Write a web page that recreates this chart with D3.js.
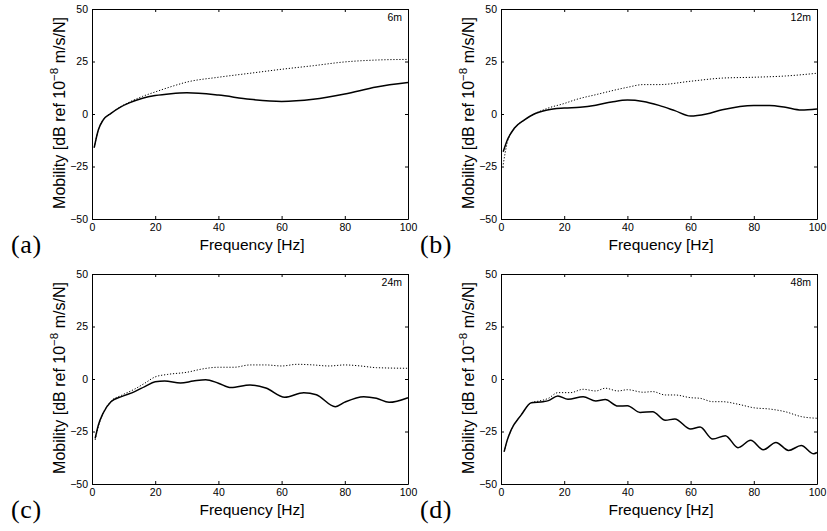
<!DOCTYPE html>
<html>
<head>
<meta charset="utf-8">
<script src="https://cdn.jsdelivr.net/npm/d3@7"></script>
<style>
  body { margin: 0; background: #fff; }
  text { font-family: "Liberation Sans", Arial, sans-serif; fill: #000; }
  .tag { font-family: "Liberation Serif", "DejaVu Serif", serif; }
</style>
</head>
<body>
<div class="chart"></div>
<script>
var svgWidth = 827;
var svgHeight = 531;

// panel titles and letters
var panelNames = ["6m", "12m", "24m", "48m"];
var panelTags = ["(a)", "(b)", "(c)", "(d)"];

var xTicks = [0, 20, 40, 60, 80, 100];
var yTicks = [-50, -25, 0, 25, 50];

// 6m
var freqA = [0.7, 2, 3.5, 6, 9, 12, 16, 20, 25, 30, 40, 50, 60, 70, 80, 90, 100];
var solidA = [-16, -7.6, -2.9, 0.3, 3.3, 5.4, 7.5, 8.8, 9.7, 10.1, 9, 7, 6, 7, 9.5, 12.9, 15];
var dotFreqA = [0.7, 2, 3.5, 6, 9, 12, 16, 20, 25, 30, 40, 50, 60, 70, 80, 90, 100];
var dottedA = [-16, -7.6, -2.9, 0.3, 3.4, 5.8, 8.4, 10.5, 13, 15.2, 17.5, 19.4, 21.3, 23, 24.8, 25.7, 26];

// 12m
var freqB = [0.7, 2, 4.2, 7.3, 10.5, 14.7, 20, 25, 30, 35, 40, 45, 50, 55, 60, 65, 70, 80, 85, 90, 95, 100];
var solidB = [-18, -12.4, -6.8, -2.9, 0, 1.9, 2.8, 3.2, 4.2, 5.7, 6.7, 6, 4.1, 1.6, -1, 0, 2, 4.1, 4.1, 3.2, 1.9, 2.4];
var dotFreqB = [0.7, 2, 4.2, 7.3, 10.5, 14.7, 20, 24, 30, 40, 45, 50, 60, 70, 80, 90, 100];
var dottedB = [-24, -13.5, -7, -2.9, 0, 2.7, 5, 7, 9.2, 12.7, 14, 14, 15.6, 17.1, 17.5, 18.1, 19.4];

// 24m
var freqC = [1, 2, 3.5, 6, 9.3, 13.5, 16.7, 20, 23, 28, 32, 36, 40, 44, 50, 55, 61, 67, 71, 77, 80, 86, 90, 94, 100];
var solidC = [-28.3, -22, -16.3, -10.8, -8.4, -6, -3.6, -1.3, -1, -1.9, -1, -0.3, -2, -4.1, -2.9, -4.3, -8.7, -6.5, -7.5, -13.2, -11, -8.4, -9.2, -11.1, -8.9];
var dotFreqC = [1, 2, 3.5, 6, 9.3, 13.5, 16.7, 20, 24, 30, 35, 40, 45, 50, 55, 60, 65, 70, 75, 80, 85, 90, 100];
var dottedC = [-29, -22.5, -16.3, -10.6, -7.8, -4.8, -2, 1, 2.2, 3.2, 4.8, 5.6, 5.6, 6.7, 6.7, 6.2, 7, 6.7, 6.2, 6.7, 6.2, 5.4, 5.1];

// 48m
var freqD = [1, 2, 3.2, 6.4, 9.6, 13.3, 15, 18, 21.2, 26, 30, 33, 37, 40, 44, 48, 52, 55, 60, 63, 67, 71, 75, 79, 83, 87, 91, 95, 99, 100];
var solidD = [-34.6, -29, -24.3, -17.1, -11.3, -10.8, -10.3, -8.1, -9.7, -8.4, -10.5, -9.8, -12.9, -12.7, -15.9, -15.6, -19.7, -19, -23.8, -22.9, -28.6, -27, -32.7, -29.2, -33.7, -30.2, -34, -31.7, -35.6, -35];
var dotFreqD = [1, 2, 3.2, 6.4, 9.6, 12, 15, 18, 22, 26, 30, 33, 37, 40, 45, 48, 52, 55, 60, 63, 67, 70, 75, 80, 85, 90, 95, 100];
var dottedD = [-34.6, -29, -24.3, -17.1, -11.2, -10.5, -9.2, -6.5, -6.5, -4.9, -5.7, -4.4, -5.7, -5.1, -6.3, -6, -7.6, -7.6, -8.9, -9.2, -10.8, -10.8, -12, -13.7, -14.3, -15.6, -17.9, -18.7];

var panels = [
  { x: 92, y: 9, f: freqA, s: solidA, df: dotFreqA, d: dottedA },
  { x: 501, y: 9, f: freqB, s: solidB, df: dotFreqB, d: dottedB },
  { x: 92, y: 274, f: freqC, s: solidC, df: dotFreqC, d: dottedC },
  { x: 501, y: 274, f: freqD, s: solidD, df: dotFreqD, d: dottedD }
];

var width = 316;
var height = 210;

var svg = d3.select(".chart")
  .append("svg")
  .attr("width", svgWidth)
  .attr("height", svgHeight);

var xScale = d3.scaleLinear().domain([0, 100]).range([0, width]);
var yScale = d3.scaleLinear().domain([-50, 50]).range([height, 0]);

panels.forEach(function (p, i) {
  var g = svg.append("g")
    .attr("transform", `translate(${p.x}, ${p.y})`);

  // axes with inward ticks, matlab style box
  var bottomAxis = d3.axisBottom(xScale).tickValues(xTicks).tickSizeInner(-3).tickSizeOuter(0).tickPadding(5);
  var topAxis = d3.axisTop(xScale).tickValues(xTicks).tickSizeInner(-3).tickSizeOuter(0).tickFormat("");
  var leftAxis = d3.axisLeft(yScale).tickValues(yTicks).tickSizeInner(-3).tickSizeOuter(0).tickPadding(4)
    .tickFormat(d => d < 0 ? "\u2212" + Math.abs(d) : d);
  var rightAxis = d3.axisRight(yScale).tickValues(yTicks).tickSizeInner(-3).tickSizeOuter(0).tickFormat("");

  g.append("g").attr("transform", `translate(0, ${height})`).call(bottomAxis);
  g.append("g").call(topAxis);
  g.append("g").call(leftAxis);
  g.append("g").attr("transform", `translate(${width}, 0)`).call(rightAxis);

  g.selectAll(".domain").attr("stroke", "#000").attr("stroke-width", 1);
  g.selectAll(".tick line").attr("stroke", "#000");
  g.selectAll(".tick text").attr("font-size", 10.5);

  var line = d3.line()
    .x(d => xScale(d[0]))
    .y(d => yScale(d[1]))
    .curve(d3.curveMonotoneX);

  g.append("path")
    .datum(p.df.map((f, j) => [f, p.d[j]]))
    .attr("fill", "none")
    .attr("stroke", "#000")
    .attr("stroke-width", 1)
    .attr("stroke-dasharray", "1.2,1.8")
    .attr("d", line);

  g.append("path")
    .datum(p.f.map((f, j) => [f, p.s[j]]))
    .attr("fill", "none")
    .attr("stroke", "#000")
    .attr("stroke-width", 1.5)
    .attr("d", line);

  // name in the corner
  g.append("text")
    .attr("x", width - 6)
    .attr("y", 12)
    .attr("text-anchor", "end")
    .attr("font-size", 10.5)
    .text(panelNames[i]);

  // axis labels
  g.append("text")
    .attr("x", width / 2 + 2)
    .attr("y", height + 31)
    .attr("text-anchor", "middle")
    .attr("font-size", 15.5)
    .text("Frequency [Hz]");

  var yl = g.append("text")
    .attr("transform", `translate(-27, ${height / 2 - 1}) rotate(-90)`)
    .attr("text-anchor", "middle")
    .attr("font-size", 16);
  yl.append("tspan").text("Mobility [dB ref 10");
  yl.append("tspan").attr("dy", -7).attr("font-size", 11.5).text("\u22128");
  yl.append("tspan").attr("dy", 7).text(" m/s/N]");

  g.append("text")
    .attr("class", "tag")
    .attr("x", -81)
    .attr("y", height + 34)
    .attr("font-size", 26)
    .attr("letter-spacing", 0.6)
    .text(panelTags[i]);
});
</script>
</body>
</html>
